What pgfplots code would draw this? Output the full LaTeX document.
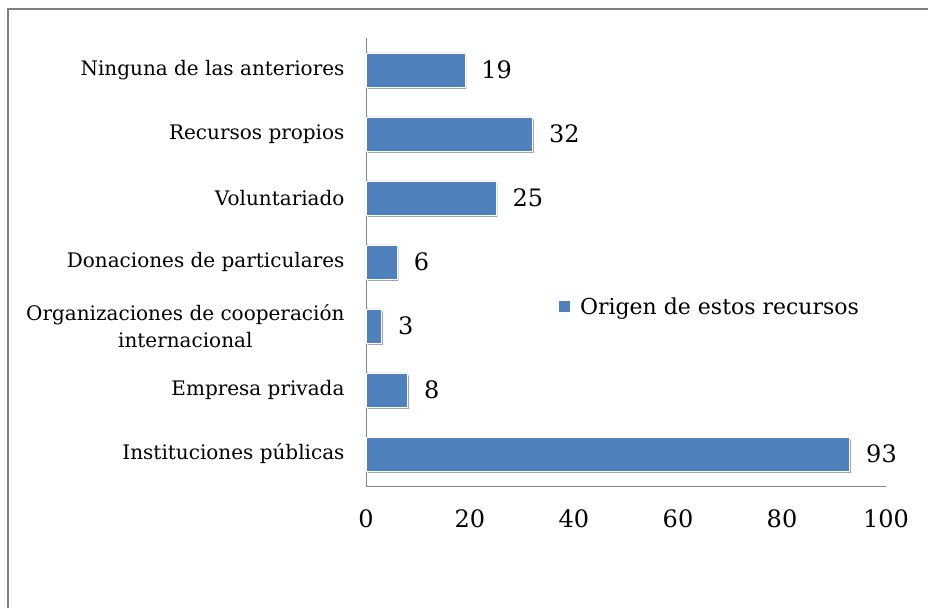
\documentclass[border=0pt]{standalone}
\usepackage{fontspec}
\setmainfont{DejaVu Serif}
\usepackage{pgfplots}
\pgfplotsset{compat=1.18}
\usetikzlibrary{shadows}
\definecolor{barblue}{HTML}{4F81BD}
\definecolor{axgray}{HTML}{868686}
\definecolor{framegray}{HTML}{808080}
\begin{document}
\begin{tikzpicture}[x=1pt,y=1pt]
\useasboundingbox (0,0) rectangle (928,608);
\draw[framegray, line width=2pt] (8,0) -- (8,599) -- (929,599);
\begin{axis}[
  at={(366pt,122pt)}, anchor=south west,
  width=520pt, height=448pt, scale only axis,
  xbar, xmin=0, xmax=100, ymin=-0.5, ymax=6.5,
  ytick={0,...,6},
  yticklabels={Instituciones públicas, Empresa privada, {Organizaciones de cooperación\\internacional}, Donaciones de particulares, Voluntariado, Recursos propios, Ninguna de las anteriores},
  xtick={0,20,...,100},
  axis x line*=bottom, axis y line*=left,
  axis line style={axgray, line width=1pt},
  major tick length=0pt,
  /pgf/number format/assume math mode=true,
  xticklabel style={font=\fontsize{24}{28}\selectfont, yshift=-20pt},
  yticklabel style={font=\fontsize{20}{27}\selectfont, align=center, xshift=-18pt},
  bar width=34pt,
  nodes near coords,
  nodes near coords style={font=\fontsize{24}{28}\selectfont, anchor=west, xshift=13pt, text=black},
  legend style={draw=none, fill=none, at={(rel axis cs:0.365,0.40)}, anchor=west, font=\fontsize{22}{26}\selectfont},
  legend image code/.code={\pgfsetfillcolor{barblue}\pgfpathrectangle{\pgfpoint{0pt}{-5.5pt}}{\pgfpoint{11pt}{11pt}}\pgfusepath{fill}},
]
\addplot[fill=barblue, draw=white, line width=0.6pt, drop shadow={shadow xshift=1.5pt, shadow yshift=-2pt, opacity=0.35, fill=black}] coordinates {(93,0) (8,1) (3,2) (6,3) (25,4) (32,5) (19,6)};
\legend{\hspace{8pt}Origen de estos recursos}
\end{axis}
\end{tikzpicture}
\end{document}
